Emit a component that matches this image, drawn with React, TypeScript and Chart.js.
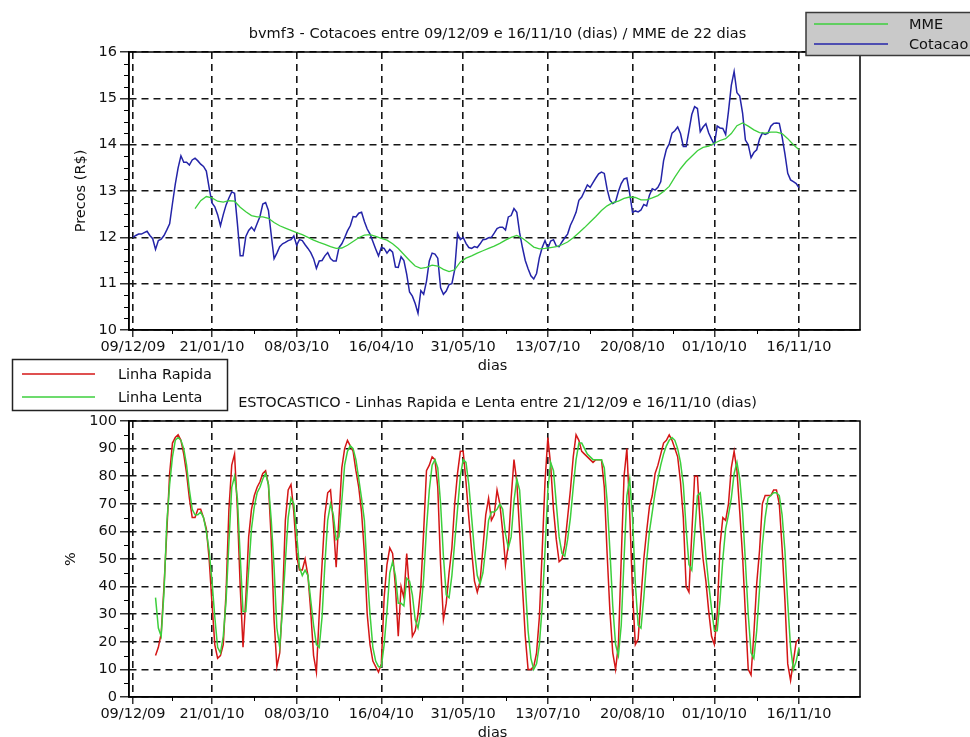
import { useEffect, useRef } from "react";
import { Chart, registerables } from "chart.js";

Chart.register(...registerables);

const FONT_FAMILY = '"DejaVu Sans", Verdana, sans-serif';
const FONT_SIZE = 14.5;

// Pregões marcados no eixo horizontal (índice do dia) e seus rótulos
const tickDays = [0, 28, 58, 88, 117, 147, 177, 206, 236];
const tickLabels = ["09/12/09", "21/01/10", "08/03/10", "16/04/10", "31/05/10", "13/07/10", "20/08/10", "01/10/10", "16/11/10"];

// Cotação diária de fechamento (R$), um valor por pregão a partir de 09/12/09
const cotacao = [
  12.00, 12.04, 12.07, 12.07, 12.10, 12.13, 12.04, 11.97, 11.74, 11.93,
  11.96, 12.04, 12.16, 12.29, 12.73, 13.15, 13.50, 13.76, 13.62, 13.62,
  13.56, 13.67, 13.71, 13.65, 13.58, 13.53, 13.43, 13.07, 12.74, 12.66,
  12.49, 12.25, 12.49, 12.70, 12.85, 12.98, 12.95, 12.30, 11.60, 11.60,
  12.02, 12.15, 12.22, 12.14, 12.30, 12.45, 12.72, 12.75, 12.58, 12.05,
  11.54, 11.66, 11.80, 11.86, 11.89, 11.93, 11.95, 12.03, 11.83, 11.95,
  11.93, 11.84, 11.76, 11.67, 11.54, 11.33, 11.49, 11.50, 11.60, 11.67,
  11.54, 11.49, 11.49, 11.78, 11.86, 11.99, 12.14, 12.25, 12.45, 12.44,
  12.52, 12.54, 12.34, 12.18, 12.07, 11.91, 11.75, 11.60, 11.78, 11.76,
  11.66, 11.74, 11.68, 11.36, 11.35, 11.58, 11.50, 11.20, 10.82, 10.73,
  10.57, 10.36, 10.85, 10.77, 11.05, 11.49, 11.66, 11.64, 11.55, 10.91,
  10.77, 10.84, 10.98, 11.00, 11.30, 12.08, 11.95, 12.00, 11.87, 11.78,
  11.76, 11.80, 11.78, 11.86, 11.95, 11.96, 11.99, 12.00, 12.09, 12.19,
  12.22, 12.22, 12.16, 12.44, 12.47, 12.62, 12.54, 12.10, 11.78, 11.50,
  11.32, 11.17, 11.10, 11.22, 11.56, 11.78, 11.93, 11.76, 11.92, 11.95,
  11.81, 11.80, 11.90, 11.99, 12.07, 12.26, 12.39, 12.54, 12.80, 12.87,
  13.00, 13.13, 13.08, 13.18, 13.28, 13.37, 13.41, 13.38, 13.04, 12.80,
  12.73, 12.77, 12.99, 13.16, 13.26, 13.28, 12.95, 12.54, 12.57, 12.55,
  12.59, 12.71, 12.68, 12.91, 13.05, 13.02, 13.08, 13.20, 13.65, 13.90,
  14.02, 14.25, 14.30, 14.38, 14.24, 13.96, 13.96, 14.30, 14.65, 14.82,
  14.78, 14.28, 14.38, 14.45, 14.25, 14.12, 14.00, 14.40, 14.36, 14.35,
  14.22, 14.72, 15.28, 15.58, 15.12, 15.05, 14.68, 14.10, 14.00, 13.72,
  13.83, 13.89, 14.12, 14.25, 14.22, 14.25, 14.40, 14.46, 14.47, 14.46,
  14.17, 13.80, 13.38, 13.24, 13.20, 13.16, 13.07,
];

// Média móvel exponencial de 22 dias, amostrada a cada 2 pregões a partir do dia 22
const mmeInicio = 22;
const mmePasso = 2;
const mme = [
  12.62, 12.79, 12.88, 12.85, 12.78, 12.76, 12.79, 12.78, 12.65, 12.55,
  12.47, 12.44, 12.44, 12.41, 12.32, 12.25, 12.20, 12.15, 12.10, 12.06,
  12.00, 11.94, 11.89, 11.85, 11.80, 11.76, 11.77, 11.83, 11.91, 11.99,
  12.05, 12.06, 12.02, 11.98, 11.94, 11.86, 11.76, 11.63, 11.50, 11.38,
  11.33, 11.35, 11.40, 11.38, 11.31, 11.26, 11.30, 11.47, 11.55, 11.60,
  11.66, 11.71, 11.76, 11.81, 11.87, 11.94, 12.00, 12.04, 11.98, 11.89,
  11.79, 11.75, 11.76, 11.78, 11.80, 11.84, 11.90, 11.99, 12.10, 12.21,
  12.33, 12.45, 12.58, 12.68, 12.75, 12.78, 12.84, 12.87, 12.86, 12.81,
  12.81, 12.85, 12.90, 12.99, 13.10, 13.30, 13.48, 13.63, 13.75, 13.87,
  13.94, 13.97, 14.03, 14.09, 14.13, 14.24, 14.41, 14.47, 14.40, 14.32,
  14.26, 14.25, 14.27, 14.27, 14.24, 14.13, 14.00, 13.89,
];

// Estocástico (%), um valor por pregão a partir de 21/12/09 (dia 8)
const estocInicio = 8;
const linhaRapida = [
  15, 18, 23, 40, 60, 81, 92, 94, 95, 93,
  88, 81, 72, 65, 65, 68, 68, 65, 61, 50,
  34, 19, 14, 15, 19, 38, 68, 84, 88, 68,
  40, 18, 36, 58, 68, 73, 76, 78, 81, 82,
  77, 57, 28, 11, 16, 35, 64, 75, 77, 67,
  51, 46, 46, 50, 44, 31, 15, 9, 30, 48,
  66, 74, 75, 63, 47, 65, 83, 90, 93, 91,
  89, 82, 76, 67, 52, 30, 19, 13, 11, 9,
  12, 36, 48, 54, 52, 40, 22, 40, 36, 52,
  38, 22, 24, 30, 40, 60, 82, 84, 87, 86,
  76, 48, 28, 34, 45, 54, 70, 81, 89, 89,
  78, 65, 53, 42, 38, 42, 54, 66, 72, 64,
  66, 75, 70, 60, 48, 55, 72, 86, 78, 60,
  40, 22, 10, 10, 11, 16, 29, 53, 78, 94,
  84, 68, 57, 49, 50, 55, 65, 75, 87, 95,
  93, 89, 88, 87, 86, 85, 86, 86, 86, 76,
  52, 31, 16, 10, 19, 50, 80, 90, 67, 38,
  19, 21, 36, 50, 60, 69, 73, 81, 84, 88,
  92, 93, 95, 93, 90, 87, 78, 65, 40, 38,
  59, 80, 80, 62, 50, 42, 31, 22, 19, 30,
  55, 65, 64, 70, 83, 89, 82, 67, 51, 30,
  10, 8, 23, 41, 53, 70, 73, 73, 73, 75,
  75, 70, 54, 35, 12, 6, 13, 20, 21,
];
const linhaLenta = [
  36, 25, 22, 38, 63, 77, 87, 93, 94, 93,
  90, 84, 75, 68, 66, 66, 67, 65, 60, 53,
  42, 29, 18, 16, 22, 35, 56, 76, 80, 72,
  51, 31, 31, 46, 61, 69, 74, 76, 79, 81,
  77, 64, 47, 25, 18, 32, 49, 65, 72, 70,
  59, 47, 44, 46, 44, 35, 26, 19, 18, 29,
  48, 64, 70, 66, 57, 58, 71, 84, 89, 91,
  90, 86, 79, 72, 64, 45, 30, 18, 13, 11,
  11, 19, 31, 45, 49, 44, 34, 34, 33, 43,
  42, 37, 28, 25, 31, 43, 61, 75, 84, 86,
  83, 70, 51, 37, 36, 44, 56, 68, 80, 86,
  85, 77, 65, 53, 44, 41, 45, 54, 64, 67,
  67, 68, 70, 68, 59, 54, 58, 71, 79, 75,
  59, 41, 24, 14, 10, 12, 19, 33, 53, 75,
  85, 82, 70, 58, 52, 51, 57, 65, 76, 86,
  92, 92, 90, 88, 87, 86, 86, 86, 86, 83,
  71, 53, 33, 19, 15, 26, 50, 73, 79, 65,
  41, 26, 25, 36, 49, 60, 67, 74, 79, 84,
  88, 91, 93, 94, 93, 90, 85, 77, 61, 48,
  46, 59, 73, 74, 64, 51, 41, 32, 24, 24,
  35, 50, 61, 66, 72, 81, 85, 79, 67, 49,
  30, 16, 14, 24, 39, 55, 65, 72, 73, 74,
  74, 73, 66, 53, 34, 18, 10, 13, 18,
];

const COR_AZUL = "#2424a8";
const COR_VERDE = "#3ccf3c";
const COR_VERMELHO = "#d41616";

const X_MIN = -1.4;
const X_MAX = 257.6;

type LegendItem = { label: string; color: string };
type Deco = {
  title: string;
  yTitle: string;
  yTitleX: number;
  minorStep: number;
  majorStep: number;
  legendItems: LegendItem[];
  legendBox: { x: number; y: number; w: number; h: number; fill: string; stroke: string };
  legendLine: [number, number];
  legendTextX: number;
  legendRows: number[];
};

const font = (size = FONT_SIZE) => `${size}px ${FONT_FAMILY}`;

function decorations(d: Deco) {
  return {
    id: "decorations",
    afterDraw(chart: any) {
      const { ctx, chartArea: a, scales } = chart;
      const ys = scales.y;
      const xs = scales.x;
      ctx.save();

      // moldura do gráfico
      ctx.strokeStyle = "#000";
      ctx.lineWidth = 1.5;
      ctx.setLineDash([]);
      ctx.strokeRect(a.left, a.top, a.right - a.left, a.bottom - a.top);

      // marcas secundárias do eixo vertical
      ctx.lineWidth = 1;
      const nMinor = Math.round((ys.max - ys.min) / d.minorStep);
      for (let k = 0; k <= nMinor; k++) {
        const v = ys.min + k * d.minorStep;
        const r = (v - ys.min) / d.majorStep;
        if (Math.abs(r - Math.round(r)) < 1e-6) continue;
        const py = Math.round(ys.getPixelForValue(v)) + 0.5;
        ctx.beginPath();
        ctx.moveTo(a.left - 5, py);
        ctx.lineTo(a.left, py);
        ctx.stroke();
      }
      // marcas secundárias do eixo horizontal
      for (let i = 0; i < tickDays.length - 1; i++) {
        const px = Math.round(xs.getPixelForValue((tickDays[i] + tickDays[i + 1]) / 2)) + 0.5;
        ctx.beginPath();
        ctx.moveTo(px, a.bottom);
        ctx.lineTo(px, a.bottom + 4);
        ctx.stroke();
      }

      // títulos
      ctx.fillStyle = "#111";
      ctx.font = font();
      ctx.textAlign = "center";
      ctx.textBaseline = "middle";
      ctx.fillText(d.title, (a.left + a.right) / 2 + 3, a.top - 18);
      ctx.fillText("dias", (a.left + a.right) / 2 - 2, a.bottom + 36);
      ctx.save();
      ctx.translate(d.yTitleX, (a.top + a.bottom) / 2);
      ctx.rotate(-Math.PI / 2);
      ctx.fillText(d.yTitle, 0, 0);
      ctx.restore();

      // legenda
      const b = d.legendBox;
      ctx.fillStyle = b.fill;
      ctx.fillRect(b.x, b.y, b.w, b.h);
      ctx.strokeStyle = b.stroke;
      ctx.lineWidth = 1.5;
      ctx.strokeRect(b.x, b.y, b.w, b.h);
      ctx.textAlign = "left";
      d.legendItems.forEach((it, i) => {
        const ry = d.legendRows[i];
        ctx.strokeStyle = it.color;
        ctx.lineWidth = 1.5;
        ctx.beginPath();
        ctx.moveTo(d.legendLine[0], ry);
        ctx.lineTo(d.legendLine[1], ry);
        ctx.stroke();
        ctx.fillStyle = "#111";
        ctx.fillText(it.label, d.legendTextX, ry + 1);
      });

      ctx.restore();
    },
  };
}

function axisOptions(tickLength: number) {
  return {
    grid: {
      color: "#151515",
      lineWidth: 1.6,
      drawTicks: true,
      tickLength,
      tickColor: "#000",
      tickWidth: 1.2,
      tickBorderDash: [],
    },
    border: { display: true, color: "#000", width: 1.5, dash: [7, 5] },
  };
}

function buildOptions(p: { padTop: number; padBottom: number; yMin: number; yMax: number; yStep: number }) {
  const tickFont = { family: FONT_FAMILY, size: FONT_SIZE };
  return {
    responsive: false,
    animation: false as const,
    devicePixelRatio: 1,
    layout: { padding: { left: 79, right: 110, top: p.padTop, bottom: p.padBottom } },
    plugins: { legend: { display: false }, title: { display: false }, tooltip: { enabled: false } },
    elements: { point: { radius: 0 }, line: { tension: 0, borderWidth: 1.5 } },
    scales: {
      x: {
        type: "linear" as const,
        min: X_MIN,
        max: X_MAX,
        afterBuildTicks: (s: any) => {
          s.ticks = tickDays.map((v) => ({ value: v }));
        },
        afterFit: (s: any) => {
          s.height = 30;
        },
        ticks: {
          autoSkip: false,
          maxRotation: 0,
          padding: 2,
          color: "#111",
          font: tickFont,
          callback: (_v: any, i: number) => tickLabels[i] ?? "",
        },
        ...axisOptions(7),
      },
      y: {
        type: "linear" as const,
        min: p.yMin,
        max: p.yMax,
        afterFit: (s: any) => {
          s.width = 50;
        },
        ticks: { stepSize: p.yStep, padding: 3, color: "#111", font: tickFont },
        ...axisOptions(9),
      },
    },
  };
}

export default function App() {
  const topRef = useRef<HTMLCanvasElement>(null);
  const botRef = useRef<HTMLCanvasElement>(null);

  useEffect(() => {
    const precos = new Chart(topRef.current!, {
      type: "line",
      data: {
        datasets: [
          {
            label: "Cotacao",
            data: cotacao.map((y, i) => ({ x: i, y })),
            borderColor: COR_AZUL,
            borderWidth: 1.5,
            order: 2,
          },
          {
            label: "MME",
            data: mme.map((y, i) => ({ x: mmeInicio + i * mmePasso, y })),
            borderColor: COR_VERDE,
            borderWidth: 1.3,
            order: 1,
          },
        ],
      },
      options: buildOptions({ padTop: 52, padBottom: 737 - 330 - 30, yMin: 10, yMax: 16, yStep: 1 }) as any,
      plugins: [
        decorations({
          title: "bvmf3 - Cotacoes entre 09/12/09 e 16/11/10 (dias) / MME de 22 dias",
          yTitle: "Precos (R$)",
          yTitleX: 81,
          minorStep: 0.25,
          majorStep: 1,
          legendItems: [
            { label: "MME", color: COR_VERDE },
            { label: "Cotacao", color: COR_AZUL },
          ],
          legendBox: { x: 806, y: 12.5, w: 170, h: 43, fill: "#c9c9c9", stroke: "#3a3a3a" },
          legendLine: [814, 888],
          legendTextX: 909,
          legendRows: [24, 44],
        }),
      ],
    });

    const estocastico = new Chart(botRef.current!, {
      type: "line",
      data: {
        datasets: [
          {
            label: "Linha Rapida",
            data: linhaRapida.map((y, i) => ({ x: estocInicio + i, y })),
            borderColor: COR_VERMELHO,
            borderWidth: 1.5,
            order: 2,
          },
          {
            label: "Linha Lenta",
            data: linhaLenta.map((y, i) => ({ x: estocInicio + i, y })),
            borderColor: COR_VERDE,
            borderWidth: 1.5,
            order: 1,
          },
        ],
      },
      options: buildOptions({ padTop: 421, padBottom: 737 - 697 - 30, yMin: 0, yMax: 100, yStep: 10 }) as any,
      plugins: [
        decorations({
          title: "ESTOCASTICO - Linhas Rapida e Lenta entre 21/12/09 e 16/11/10 (dias)",
          yTitle: "%",
          yTitleX: 71,
          minorStep: 5,
          majorStep: 10,
          legendItems: [
            { label: "Linha Rapida", color: COR_VERMELHO },
            { label: "Linha Lenta", color: COR_VERDE },
          ],
          legendBox: { x: 12.5, y: 359.5, w: 215, h: 51, fill: "#ffffff", stroke: "#222" },
          legendLine: [22, 95],
          legendTextX: 118,
          legendRows: [374, 397],
        }),
      ],
    });

    return () => {
      precos.destroy();
      estocastico.destroy();
    };
  }, []);

  return (
    <div style={{ position: "absolute", left: 0, top: 0, width: 970, height: 737, background: "#fff", overflow: "hidden" }}>
      <canvas ref={topRef} width={970} height={737} style={{ position: "absolute", left: 0, top: 0 }} />
      <canvas ref={botRef} width={970} height={737} style={{ position: "absolute", left: 0, top: 0 }} />
    </div>
  );
}
